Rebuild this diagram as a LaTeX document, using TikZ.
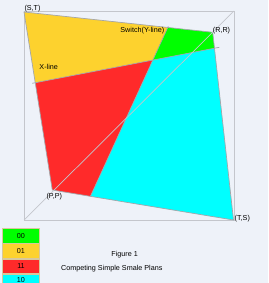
\documentclass[tikz,border=0pt]{standalone}
\usepackage{fontspec}
\setmainfont{Liberation Sans}
\usetikzlibrary{positioning}
\definecolor{Paper}{HTML}{EEF2F9}
\definecolor{Frame}{HTML}{C4C6CC}
\definecolor{Edge}{HTML}{A4A6AA}
\definecolor{Lime}{HTML}{00FF00}
\definecolor{Gold}{HTML}{FDD22E}
\definecolor{Scarlet}{HTML}{FF2A2A}
\definecolor{Aqua}{HTML}{00FFFF}
\definecolor{Tan}{HTML}{D8C89C}

\begin{document}
\begin{tikzpicture}[x=1pt,y=-1pt,
    every node/.style={font=\fontsize{7.2}{8}\selectfont, inner sep=0pt},
    planline/.style={draw=Edge, line width=0.7pt},
    keybox/.style={draw=Tan, line width=0.8pt, minimum width=36.5pt, minimum height=14.3pt}]
  \fill[Paper] (0,0) rectangle (268,283);
  \useasboundingbox (0,0) rectangle (268,283);

  % corners of the plan set
  \coordinate (ST) at (24,12);
  \coordinate (RR) at (212.7,32.3);
  \coordinate (TS) at (233.5,220);
  \coordinate (PP) at (52.3,190);
  % switching lines
  \coordinate (XL) at (32.3,83.3);
  \coordinate (XR) at (219.3,47.3);
  \coordinate (YT) at (168.3,26.3);
  \coordinate (YB) at (90.3,196.6);
  \coordinate (XA) at (intersection of XL--XR and ST--PP);
  \coordinate (XB) at (intersection of XL--XR and RR--TS);
  \coordinate (YA) at (intersection of YT--YB and ST--RR);
  \coordinate (YC) at (intersection of YT--YB and PP--TS);
  \coordinate (C) at (intersection of XL--XR and YT--YB);
  % square and diagonal
  \coordinate (SW) at (24,220);
  \coordinate (NE) at (234,11);
  \draw[Frame, line width=0.7pt] (24,11) rectangle (234,220);

  \fill[Gold] (ST) -- (YA) -- (C) -- (XA) -- cycle;
  \fill[Lime] (YA) -- (RR) -- (XB) -- (C) -- cycle;
  \fill[Scarlet] (XA) -- (C) -- (YC) -- (PP) -- cycle;
  \fill[Aqua] (C) -- (XB) -- (TS) -- (YC) -- cycle;

  \draw[planline] (ST) -- (RR) -- (TS) -- (PP) -- cycle;
  \draw[planline] (XL) -- (XR);
  \draw[planline] (YT) -- (YB);
  \draw[Frame, line width=0.7pt] (SW) -- (NE);

  \node (lST) at (32.5,8.3) {(S,T)};
  \node (lRR) at (221.5,30.5) {(R,R)};
  \node (lTS) at (242.3,218.3) {(T,S)};
  \node (lPP) at (54.3,196.5) {(P,P)};
  \node (lX) at (48.7,66.5) {X-line};
  \node (lY) at (142.3,30.8) {Switch(Y-line)};

  % legend
  \node[keybox, fill=Lime] (k00) at (21,235.9) {00};
  \node[keybox, fill=Gold, below=0pt of k00] (k01) {01};
  \node[keybox, fill=Scarlet, below=0pt of k01] (k11) {11};
  \node[keybox, fill=Aqua, minimum height=11.4pt, below=0pt of k11] (k10) {10};

  \node (fig) at (124.7,255) {Figure 1};
  \node (cap) at (111.8,269) {Competing Simple Smale Plans};
\end{tikzpicture}
\end{document}
